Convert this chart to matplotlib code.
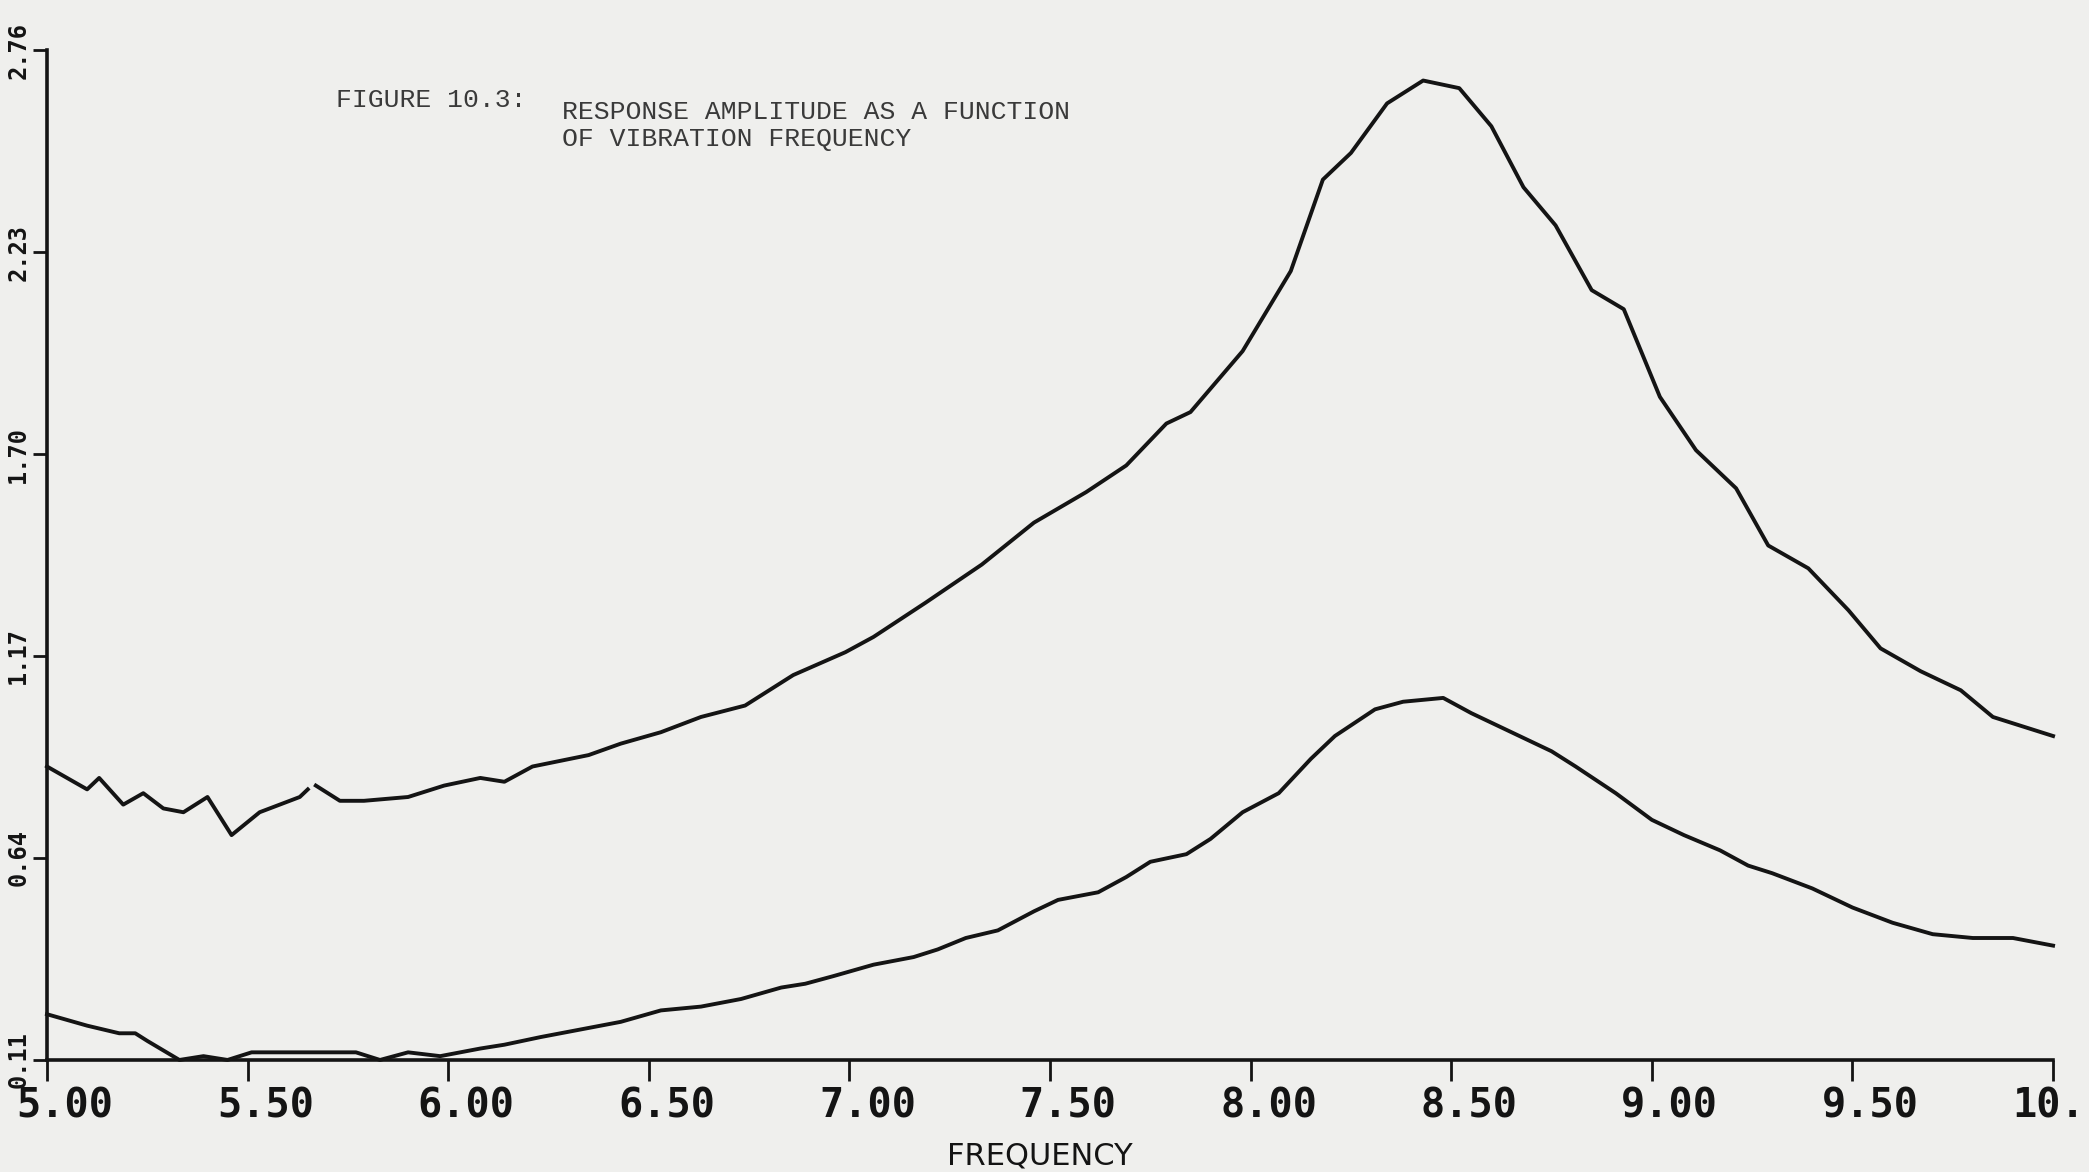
import numpy as np
import matplotlib
matplotlib.use('Agg')
import matplotlib.pyplot as plt
import matplotlib.transforms as mtransforms

# upper response curve (np.nan = pen lift in the original trace)
freq_upper = [5.00, 5.10, 5.13, 5.19, 5.24, 5.29, 5.34, 5.40, 5.46, 5.53, 5.58, 5.63, 5.65, 5.66,
              5.67, 5.73, 5.79, 5.90, 5.99, 6.08, 6.14, 6.21, 6.35, 6.43, 6.53, 6.63, 6.74, 6.86,
              6.99, 7.06, 7.19, 7.33, 7.46, 7.59, 7.69, 7.79, 7.85, 7.98, 8.10, 8.18, 8.25, 8.34,
              8.43, 8.52, 8.60, 8.68, 8.76, 8.85, 8.93, 9.02, 9.11, 9.21, 9.29, 9.39, 9.49, 9.57,
              9.67, 9.77, 9.85, 10.00]
amp_upper = [0.88, 0.82, 0.85, 0.78, 0.81, 0.77, 0.76, 0.80, 0.70, 0.76, 0.78, 0.80, 0.82, np.nan,
             0.83, 0.79, 0.79, 0.80, 0.83, 0.85, 0.84, 0.88, 0.91, 0.94, 0.97, 1.01, 1.04, 1.12,
             1.18, 1.22, 1.31, 1.41, 1.52, 1.60, 1.67, 1.78, 1.81, 1.97, 2.18, 2.42, 2.49, 2.62,
             2.68, 2.66, 2.56, 2.40, 2.30, 2.13, 2.08, 1.85, 1.71, 1.61, 1.46, 1.40, 1.29, 1.19,
             1.13, 1.08, 1.01, 0.96]

# lower response curve
freq_lower = [5.00, 5.10, 5.18, 5.22, 5.25, 5.33, 5.39, 5.45, 5.51, 5.56, 5.77, 5.83, 5.90, 5.98,
              6.08, 6.14, 6.23, 6.33, 6.43, 6.53, 6.63, 6.73, 6.83, 6.89, 6.96, 7.06, 7.16, 7.22,
              7.29, 7.37, 7.46, 7.52, 7.62, 7.69, 7.75, 7.84, 7.90, 7.98, 8.07, 8.15, 8.21, 8.31,
              8.38, 8.48, 8.55, 8.65, 8.75, 8.81, 8.91, 9.00, 9.08, 9.17, 9.24, 9.30, 9.40, 9.50,
              9.60, 9.70, 9.80, 9.90, 10.00]
amp_lower = [0.23, 0.20, 0.18, 0.18, 0.16, 0.11, 0.12, 0.11, 0.13, 0.13, 0.13, 0.11, 0.13, 0.12,
             0.14, 0.15, 0.17, 0.19, 0.21, 0.24, 0.25, 0.27, 0.30, 0.31, 0.33, 0.36, 0.38, 0.40,
             0.43, 0.45, 0.50, 0.53, 0.55, 0.59, 0.63, 0.65, 0.69, 0.76, 0.81, 0.90, 0.96, 1.03,
             1.05, 1.06, 1.02, 0.97, 0.92, 0.88, 0.81, 0.74, 0.70, 0.66, 0.62, 0.60, 0.56, 0.51,
             0.47, 0.44, 0.43, 0.43, 0.41]

x_ticks = [5.0, 5.5, 6.0, 6.5, 7.0, 7.5, 8.0, 8.5, 9.0, 9.5, 10.0]
x_labels = ['5.00', '5.50', '6.00', '6.50', '7.00', '7.50', '8.00', '8.50', '9.00', '9.50', '10.']
y_ticks = [0.11, 0.64, 1.17, 1.70, 2.23, 2.76]
y_labels = ['0.11', '0.64', '1.17', '1.70', '2.23', '2.76']

paper = '#efefed'
ink = '#141414'

fig = plt.figure(figsize=(20.89, 11.72), dpi=100, facecolor=paper)
ax = fig.add_axes([0.0225, 0.0956, 0.9603, 0.8617])
ax.set_facecolor(paper)

ax.plot(freq_upper, amp_upper, color=ink, linewidth=2.8, clip_on=False)
ax.plot(freq_lower, amp_lower, color=ink, linewidth=2.8, clip_on=False)

ax.set_xlim(5.0, 10.0)
ax.set_ylim(0.11, 2.76)

for side in ['top', 'right']:
    ax.spines[side].set_visible(False)
for side in ['left', 'bottom']:
    ax.spines[side].set_linewidth(2.6)
    ax.spines[side].set_color(ink)

ax.set_xticks(x_ticks)
ax.set_xticklabels(x_labels, family='DejaVu Sans Mono', fontweight='bold', fontsize=29, color=ink)
ax.set_yticks(y_ticks)
ax.set_yticklabels(y_labels, family='DejaVu Sans Mono', fontweight='bold', fontsize=17,
                   color=ink, rotation=90, va='center')
ax.tick_params(axis='x', direction='out', length=15, width=2, color=ink, pad=4)
ax.tick_params(axis='y', direction='out', length=10, width=2, color=ink, pad=2)

# plotter labels sit a little right of their ticks
shift = mtransforms.ScaledTranslation(18 / 100, 0, fig.dpi_scale_trans)
xtl = ax.get_xticklabels()
for lab in xtl[:-1]:
    lab.set_transform(lab.get_transform() + shift)
last_shift = mtransforms.ScaledTranslation(32 / 100, 0, fig.dpi_scale_trans)
xtl[-1].set_horizontalalignment('right')
xtl[-1].set_transform(xtl[-1].get_transform() + last_shift)

ax.set_xlabel('FREQUENCY', fontsize=22, color=ink, va='bottom')
ax.xaxis.set_label_coords(0.495, (1060 - 1171) / 1010)

# typed caption
fig.text(336 / 2089, 1 - 100 / 1172, 'FIGURE 10.3:', family='Liberation Mono',
         fontsize=19, color='#3a3a3a', va='center', ha='left')
fig.text(562 / 2089, 1 - 100 / 1172, 'RESPONSE AMPLITUDE AS A FUNCTION\nOF VIBRATION FREQUENCY',
         family='Liberation Mono', fontsize=19, color='#3a3a3a', va='top', ha='left',
         linespacing=1.15)

fig.savefig('out.png', dpi=100, facecolor=paper)
